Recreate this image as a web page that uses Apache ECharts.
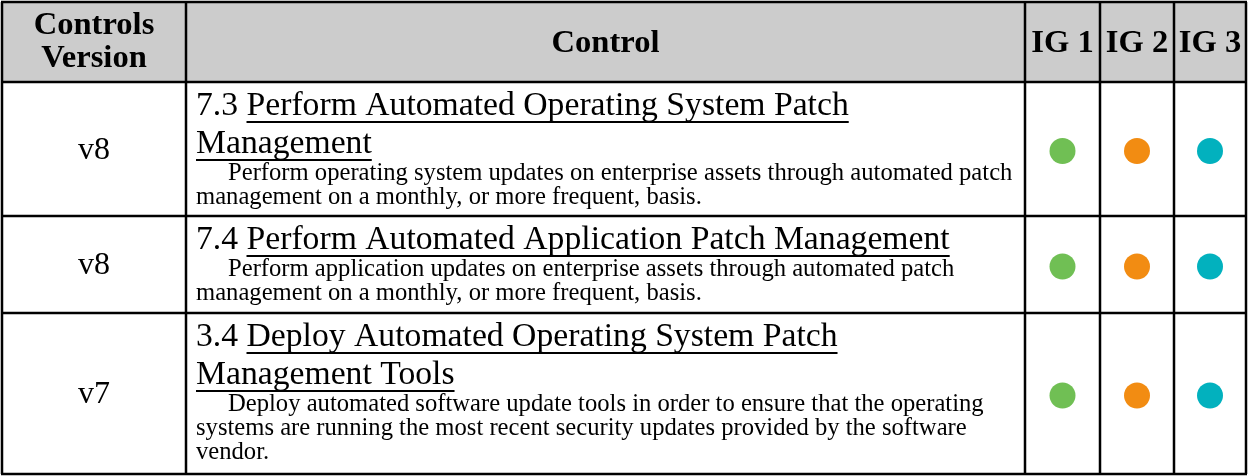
<!DOCTYPE html>
<html>
<head>
<meta charset="utf-8">
<script src="https://cdn.jsdelivr.net/npm/echarts@6/dist/echarts.min.js"></script>
<style>
  html, body { margin: 0; padding: 0; background: #ffffff; }
  #chart { width: 1248px; height: 476px; }
</style>
</head>
<body>
<div id="chart"></div>
<script>
// ---------------- DATA ----------------
const headerLabels = ['Controls\nVersion', 'Control', 'IG 1', 'IG 2', 'IG 3'];
const versions = ['v8', 'v8', 'v7'];
const titleNums = ['7.3', '7.4', '3.4'];
const titleLines = [
  ['Perform Automated Operating System Patch', 'Management'],
  ['Perform Automated Application Patch Management'],
  ['Deploy Automated Operating System Patch', 'Management Tools']
];
const descLines = [
  ['Perform operating system updates on enterprise assets through automated patch',
   'management on a monthly, or more frequent, basis.'],
  ['Perform application updates on enterprise assets through automated patch',
   'management on a monthly, or more frequent, basis.'],
  ['Deploy automated software update tools in order to ensure that the operating',
   'systems are running the most recent security updates provided by the software',
   'vendor.']
];
const ig1 = [true, true, true];
const ig2 = [true, true, true];
const ig3 = [true, true, true];
const igColors = ['#70bf54', '#f28c12', '#02b1be'];

// ---------------- LAYOUT ----------------
const colX = [2, 186, 1025, 1100, 1174, 1246];
const rowY = [2, 82, 216, 313, 474];
const FAMILY = "'Liberation Serif', 'Times New Roman', serif";

const mctx = document.createElement('canvas').getContext('2d');
function measure(text, weight, size) {
  mctx.font = weight + ' ' + size + 'px ' + FAMILY;
  return mctx.measureText(text).width;
}
function fitSize(text, weight, target) {
  return 100 * target / measure(text, weight, 100);
}
const headSize = fitSize(headerLabels[1], 'bold', 108);
const titleSize = fitSize(titleNums[0] + ' ' + titleLines[0][0], 'normal', 653);
const descSize = fitSize(descLines[0][0], 'normal', 785);
const verSize = fitSize(versions[0], 'normal', 32);
const MID = 0.3375; // middle-of-em offset above alphabetic baseline

function txt(text, x, baseline, size, weight, align) {
  return {
    type: 'text',
    silent: true,
    style: {
      text: text, x: x, y: baseline - MID * size,
      font: weight + ' ' + size + 'px ' + FAMILY,
      fill: '#000', align: align || 'left', verticalAlign: 'middle'
    }
  };
}

function renderHeader(params) {
  const i = params.dataIndex;
  const x0 = colX[i], x1 = colX[i + 1];
  const cx = (x0 + x1) / 2;
  const children = [{
    type: 'rect', silent: true,
    shape: { x: x0, y: rowY[0], width: x1 - x0, height: rowY[1] - rowY[0] },
    style: { fill: '#cccccc' }
  }];
  const parts = headerLabels[i].split('\n');
  if (parts.length === 2) {
    children.push(txt(parts[0], cx, 37, headSize, 'bold', 'center'));
    children.push(txt(parts[1], cx, 70, headSize, 'bold', 'center'));
  } else {
    children.push(txt(parts[0], cx, 55, headSize, 'bold', 'center'));
  }
  return { type: 'group', children: children };
}

function renderRow(params) {
  const i = params.dataIndex;
  const top = rowY[i + 1], bottom = rowY[i + 2];
  const cy = (top + bottom) / 2;
  const children = [];
  // version
  children.push(txt(versions[i], (colX[0] + colX[1]) / 2, cy + 12, verSize, 'normal', 'center'));
  // title
  const tx = 196;
  let base = top + 36;
  titleLines[i].forEach(function (line, k) {
    let x = tx;
    if (k === 0) {
      const num = titleNums[i] + ' ';
      children.push(txt(num, x, base, titleSize, 'normal', 'left'));
      x += measure(num, 'normal', titleSize);
    }
    children.push(txt(line, x, base, titleSize, 'normal', 'left'));
    children.push({
      type: 'rect', silent: true,
      shape: { x: x, y: base + 3, width: measure(line, 'normal', titleSize), height: 2 },
      style: { fill: '#000' }
    });
    base += 38;
  });
  base = base - 38 + 26;
  descLines[i].forEach(function (line, k) {
    children.push(txt(line, k === 0 ? 228 : 196, base, descSize, 'normal', 'left'));
    base += 24;
  });
  // IG dots
  [ig1, ig2, ig3].forEach(function (arr, g) {
    if (arr[i]) {
      children.push({
        type: 'circle', silent: true,
        shape: { cx: (colX[g + 2] + colX[g + 3]) / 2, cy: cy + 2, r: 13 },
        style: { fill: igColors[g] }
      });
    }
  });
  return { type: 'group', children: children };
}

function renderGrid() {
  const children = [];
  const L = colX[0], R = colX[colX.length - 1], T = rowY[0], B = rowY[rowY.length - 1];
  rowY.forEach(function (y) {
    children.push({ type: 'line', silent: true, shape: { x1: L - 1, y1: y, x2: R + 1, y2: y },
      style: { stroke: '#000', lineWidth: 2.5 } });
  });
  colX.forEach(function (x) {
    children.push({ type: 'line', silent: true, shape: { x1: x, y1: T, x2: x, y2: B },
      style: { stroke: '#000', lineWidth: 2.5 } });
  });
  return { type: 'group', children: children };
}

const chart = echarts.init(document.getElementById('chart'), null, { renderer: 'canvas' });
chart.setOption({
  backgroundColor: '#ffffff',
  animation: false,
  series: [
    { type: 'custom', coordinateSystem: 'none', data: headerLabels.map(function (h, i) { return i; }), renderItem: renderHeader, z: 1 },
    { type: 'custom', coordinateSystem: 'none', data: versions.map(function (v, i) { return i; }), renderItem: renderRow, z: 2 },
    { type: 'custom', coordinateSystem: 'none', data: [0], renderItem: renderGrid, z: 3 }
  ]
});
</script>
</body>
</html>
